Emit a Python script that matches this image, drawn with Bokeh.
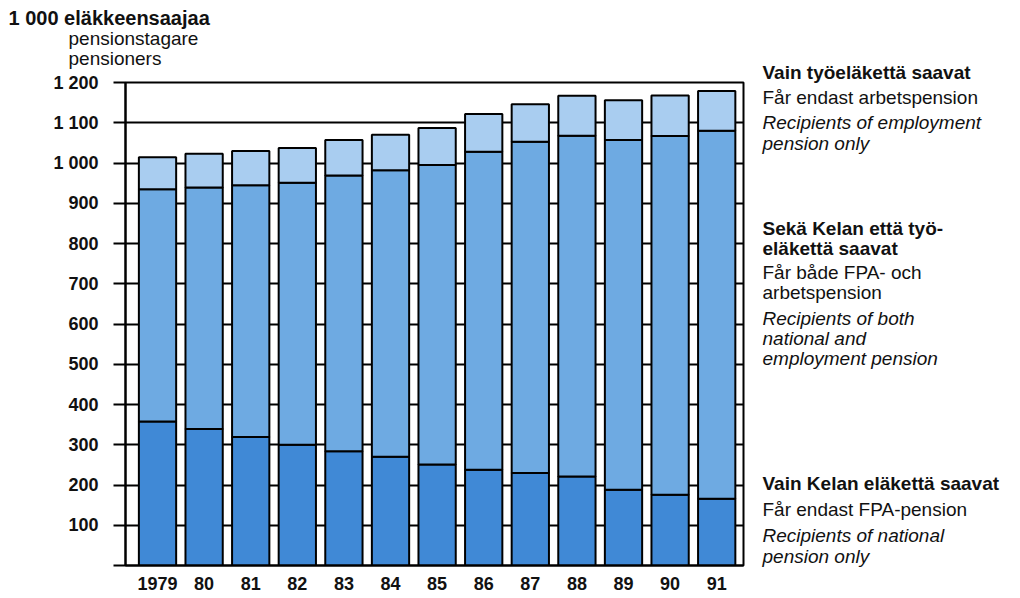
from bokeh.plotting import figure
from bokeh.models import ColumnDataSource, Range1d, FixedTicker
from bokeh.layouts import column, row
from bokeh.core.properties import value
from bokeh.embed import file_html
from bokeh.resources import INLINE

# ---- data (1 000 pensioners) ----
years = ["1979", "80", "81", "82", "83", "84", "85", "86", "87", "88", "89", "90", "91"]
kela_only = [358, 339, 319, 300, 284, 270, 251, 238, 230, 221, 188, 176, 166]
both = [577, 600, 626, 651, 685, 712, 744, 790, 823, 847, 869, 891, 914]
employment_only = [79, 84, 85, 86, 88, 88, 92, 94, 93, 99, 99, 101, 99]
y_ticks = [0, 100, 200, 300, 400, 500, 600, 700, 800, 900, 1000, 1100, 1200]
y_tick_labels = ["", "100", "200", "300", "400", "500", "600", "700", "800", "900",
                 "1 000", "1 100", "1 200"]

title_lines = ["1 000 eläkkeensaajaa", "pensionstagare", "pensioners"]
block_employment = ["Vain työeläkettä saavat", "Får endast arbetspension",
                    "Recipients of employment", "pension only"]
block_both = ["Sekä Kelan että työ-", "eläkettä saavat", "Får både FPA- och",
              "arbetspension", "Recipients of both", "national and",
              "employment pension"]
block_kela = ["Vain Kelan eläkettä saavat", "Får endast FPA-pension",
              "Recipients of national", "pension only"]

C_BOTTOM = "#4089d6"
C_MID = "#6eaae2"
C_TOP = "#a9cdf0"
FONT = "Liberation Sans"
INK = "#111111"

TOP_H = 70          # height of the title strip
MAIN_W = 750        # width of the chart figure
RIGHT_W = 1020 - MAIN_W
MAIN_H = 598 - TOP_H


def text_fig(w, h, x0, y0):
    # a bare figure whose data coordinates are page pixels
    f = figure(width=w, height=h, output_backend="svg", toolbar_location=None,
               x_range=Range1d(x0, x0 + w), y_range=Range1d(y0 + h, y0),
               x_axis_type=None, y_axis_type=None,
               min_border=0, min_border_left=0, min_border_right=0,
               min_border_top=0, min_border_bottom=0)
    f.outline_line_color = None
    f.xgrid.visible = False
    f.ygrid.visible = False
    return f


def put(f, texts, xs, ys, style, size):
    f.text(x=xs, y=ys, text=texts, text_font=value(FONT),
           text_font_style=style, text_font_size=value(size),
           text_color=INK, text_baseline="middle", text_align="left")


# ---- title strip ----
top = text_fig(MAIN_W, TOP_H, 0, 0)
put(top, title_lines[:1], [8], [17], "bold", "20px")
put(top, title_lines[1:], [68, 68], [38, 58], "normal", "19px")

# ---- main chart ----
xs = list(range(len(years)))
src = ColumnDataSource(dict(x=xs, kela=kela_only, both=both, tyo=employment_only))

# frame in page px: left 125, right 743, top 82, bottom 565
p = figure(width=MAIN_W, height=MAIN_H, output_backend="svg", toolbar_location=None,
           x_range=Range1d(-0.687, 12.575), y_range=Range1d(0, 1200),
           min_border_left=125, min_border_right=MAIN_W - 743,
           min_border_top=82 - TOP_H, min_border_bottom=598 - 565)

p.vbar_stack(["kela", "both", "tyo"], x="x", width=0.8, source=src,
             color=[C_BOTTOM, C_MID, C_TOP], line_color="black", line_width=2)

p.outline_line_color = "black"
p.outline_line_width = 2
p.outline_line_alpha = 1

p.xgrid.visible = False
p.ygrid.ticker = FixedTicker(ticks=y_ticks)
p.ygrid.grid_line_color = "black"
p.ygrid.grid_line_width = 2

ya = p.yaxis[0]
ya.ticker = FixedTicker(ticks=y_ticks)
ya.major_label_overrides = {t: l for t, l in zip(y_ticks, y_tick_labels)}
ya.major_tick_out = 12
ya.major_tick_in = 0
ya.minor_tick_out = 0
ya.minor_tick_in = 0
ya.major_tick_line_width = 2
ya.major_tick_line_color = "black"
ya.axis_line_width = 2
ya.axis_line_color = "black"
ya.major_label_standoff = 15
ya.major_label_text_font = FONT
ya.major_label_text_font_style = "bold"
ya.major_label_text_font_size = "18px"
ya.major_label_text_color = INK

xa = p.xaxis[0]
xa.ticker = FixedTicker(ticks=xs)
xa.major_label_overrides = {i: y for i, y in zip(xs, years)}
xa.major_tick_out = 0
xa.major_tick_in = 0
xa.minor_tick_out = 0
xa.minor_tick_in = 0
xa.axis_line_width = 2
xa.axis_line_color = "black"
xa.major_label_standoff = 11
xa.major_label_text_font = FONT
xa.major_label_text_font_style = "bold"
xa.major_label_text_font_size = "18px"
xa.major_label_text_color = INK

# ---- right-hand annotations (full height, page-pixel coordinates) ----
right = text_fig(RIGHT_W, 598, MAIN_W, 0)
RX = 762


def block(lines, ys, styles):
    for t, y, s in zip(lines, ys, styles):
        put(right, [t], [RX], [y], s, "19px")


block(block_employment, [72, 97, 122, 143], ["bold", "normal", "italic", "italic"])
block(block_both, [228, 248, 272, 292, 318, 338, 358],
      ["bold", "bold", "normal", "normal", "italic", "italic", "italic"])
block(block_kela, [483, 509, 535, 556], ["bold", "normal", "italic", "italic"])

# wrapping the title strip in its own row keeps it from being frame-aligned with the chart
layout = row(column(row(top), p), right)
open("out.html", "w").write(file_html(layout, INLINE))
